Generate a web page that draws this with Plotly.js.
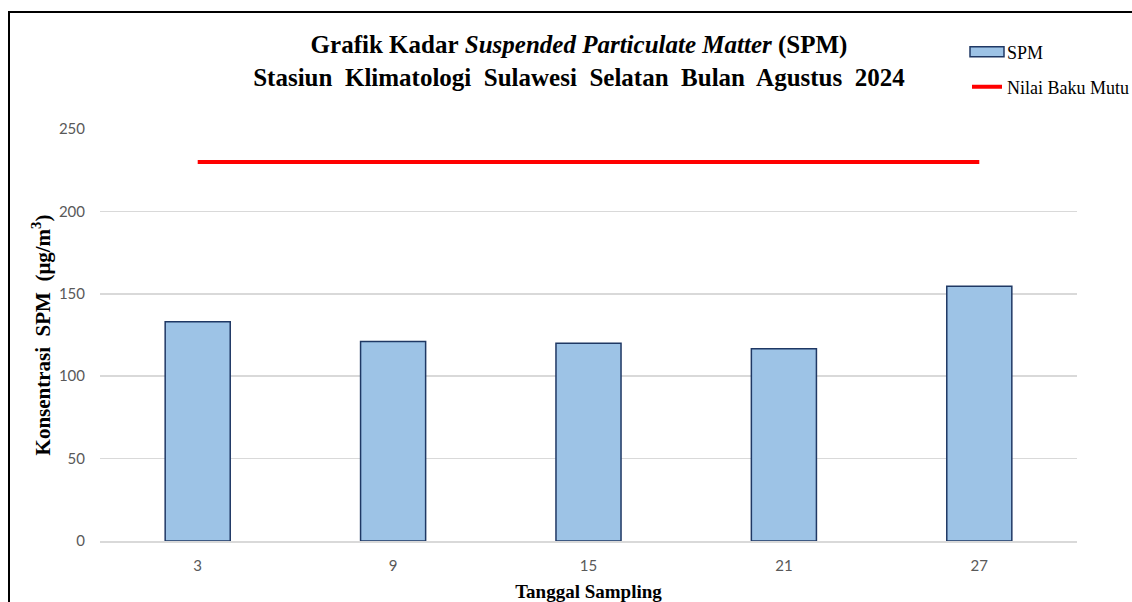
<!DOCTYPE html>
<html>
<head>
<meta charset="utf-8">
<script src="https://cdn.plot.ly/plotly-3.0.1.min.js"></script>
<style>
html,body{margin:0;padding:0;background:#fff;overflow:hidden;}
#chart{width:1132px;height:602px;}
</style>
</head>
<body>
<div id="chart"></div>
<script>
// Data
const tanggal = ["3", "9", "15", "21", "27"];
const spm = [133, 121, 120, 116.7, 154.6];
const bakuMutu = [230, 230, 230, 230, 230];
const yTicks = [0, 50, 100, 150, 200, 250];

const W = 1132, H = 602;
const M = {l: 100, r: 55, t: 129, b: 61, autoexpand: false};
const pw = W - M.l - M.r, ph = H - M.t - M.b;
function px(x){ return (x - M.l) / pw; }
function py(y){ return (H - M.b - y) / ph; }

const serif = "Liberation Serif, Times New Roman, serif";
const sans = "Lato, Noto Sans, sans-serif";

const traces = [
  {
    type: "bar",
    name: "SPM",
    x: tanggal,
    y: spm,
    marker: {color: "#9DC3E6", line: {color: "#1F3864", width: 1.5}},
    legend: "legend"
  },
  {
    type: "scatter",
    mode: "lines",
    name: "Nilai Baku Mutu",
    x: tanggal,
    y: bakuMutu,
    line: {color: "#FF0000", width: 4},
    legend: "legend2"
  }
];

const layout = {
  width: W, height: H,
  margin: M,
  paper_bgcolor: "#ffffff",
  plot_bgcolor: "#ffffff",
  bargap: 0.667,
  showlegend: true,
  title: {
    text: "<b>Grafik Kadar</b> <b><i>Suspended Particulate Matter</i></b> <b>(SPM)</b><br><b>Stasiun  Klimatologi  Sulawesi  Selatan  Bulan  Agustus  2024</b>",
    font: {family: serif, size: 25, color: "#000"},
    x: 579 / W, xref: "container", xanchor: "center",
    y: 1 - 53 / H, yref: "container", yanchor: "top"
  },
  xaxis: {
    type: "category",
    automargin: false,
    tickfont: {family: sans, size: 15, color: "#595959"},
    showgrid: false,
    showline: true, linecolor: "#d9d9d9", linewidth: 1.5,
    ticks: "", ticklabelstandoff: 10,
    title: {text: "<b>Tanggal Sampling</b>", font: {family: serif, size: 19, color: "#000"}, standoff: 21}
  },
  yaxis: {
    range: [0, 250],
    automargin: false,
    tickvals: yTicks,
    tickfont: {family: sans, size: 15, color: "#595959"},
    showgrid: true, gridcolor: "#d9d9d9", gridwidth: 1.5,
    zeroline: false, showline: false,
    ticks: "", ticklabelstandoff: 14,
    title: {text: "<b>Konsentrasi  SPM  (μg/m<sup>3</sup>)</b>", font: {family: serif, size: 21, color: "#000"}, standoff: 2}
  },
  legend: {
    x: px(967), y: py(52), xanchor: "left", yanchor: "middle",
    font: {family: serif, size: 18, color: "#000"},
    bgcolor: "rgba(0,0,0,0)", itemwidth: 30
  },
  legend2: {
    x: px(967), y: py(87), xanchor: "left", yanchor: "middle",
    font: {family: serif, size: 18, color: "#000"},
    bgcolor: "rgba(0,0,0,0)", itemwidth: 30
  },
  shapes: [
    {
      type: "rect", xref: "paper", yref: "paper",
      x0: px(9), x1: px(1200), y0: py(660), y1: py(12),
      line: {color: "#000", width: 2}, fillcolor: "rgba(0,0,0,0)", layer: "below"
    }
  ]
};

Plotly.newPlot("chart", traces, layout, {displayModeBar: false, staticPlot: true}).then(function(gd){
  // widen the bar legend icon to a rectangle like the reference
  gd.querySelectorAll(".legend .legendpoints path.legendundefined, .legend .legendpoints .legendbar path").forEach(function(p){
    p.setAttribute("d", "M17,5H-17V-5H17Z");
  });
});
</script>
</body>
</html>
